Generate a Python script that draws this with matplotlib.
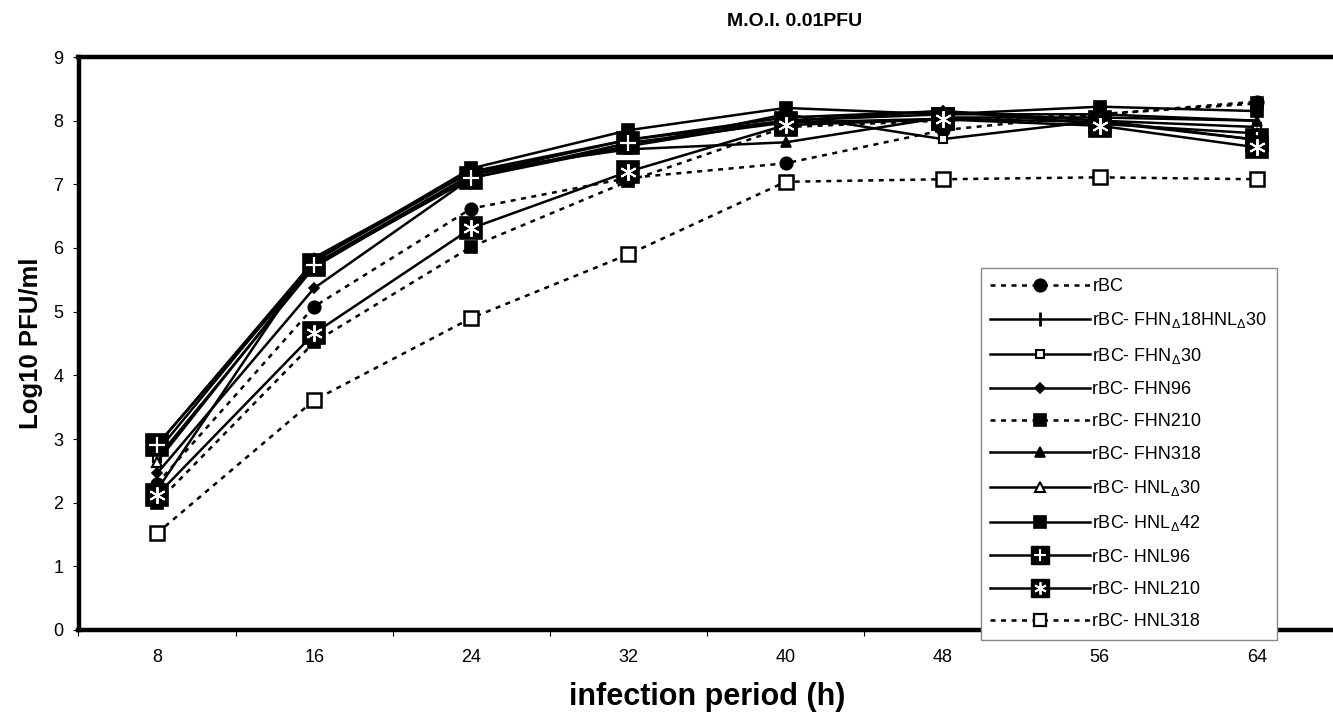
import matplotlib
matplotlib.use("Agg")
import matplotlib.pyplot as plt
from matplotlib.lines import Line2D
import numpy as np

plt.rcParams['font.family'] = ['Liberation Sans', 'DejaVu Sans']
plt.rcParams['mathtext.fontset'] = 'custom'
plt.rcParams['mathtext.rm'] = 'Liberation Sans'
plt.rcParams['mathtext.it'] = 'Liberation Sans'
plt.rcParams['mathtext.bf'] = 'Liberation Sans:bold'

hours = ['8', '16', '24', '32', '40', '48', '56', '64']

rBC            = [2.30, 5.08, 6.62, 7.10, 7.33, 7.85, 8.10, 8.30]
FHN_d18HNL_d30 = [2.80, 5.80, 7.20, 7.70, 8.00, 8.10, 8.10, 8.00]
FHN_d30        = [2.70, 5.70, 7.15, 7.60, 8.10, 7.71, 8.00, 7.90]
FHN96          = [2.46, 5.37, 7.10, 7.60, 8.00, 8.15, 8.00, 7.70]
FHN210         = [2.00, 4.52, 6.02, 7.05, 7.90, 8.00, 8.10, 8.27]
FHN318         = [2.20, 5.85, 7.20, 7.55, 7.66, 8.05, 8.05, 8.00]
HNL_d30        = [2.64, 5.75, 7.15, 7.70, 8.05, 8.15, 7.95, 7.80]
HNL_d42        = [2.90, 5.80, 7.25, 7.85, 8.20, 8.10, 8.22, 8.15]
HNL96          = [2.91, 5.73, 7.10, 7.65, 7.97, 8.03, 7.98, 7.70]
HNL210         = [2.12, 4.66, 6.31, 7.20, 7.93, 8.02, 7.92, 7.58]
HNL318         = [1.52, 3.61, 4.90, 5.90, 7.04, 7.08, 7.11, 7.08]

labels = ['rBC', r'rBC- FHN$_{\Delta}$18HNL$_{\Delta}$30', r'rBC- FHN$_{\Delta}$30',
          'rBC- FHN96', 'rBC- FHN210', 'rBC- FHN318', r'rBC- HNL$_{\Delta}$30',
          r'rBC- HNL$_{\Delta}$42', 'rBC- HNL96', 'rBC- HNL210', 'rBC- HNL318']

fig = plt.figure(figsize=(13.33, 7.17), dpi=100)
ax = fig.add_axes([78.5/1333, 1-630/717, 1257/1333, (630-57)/717])
x = np.arange(len(hours))

lw = 1.8
dash = (2.0, 2.2)
k = 'black'

def plot(vals, ls, marker, ms, mfc='black', mew=1.2, z=2):
    kw = dict(color=k, lw=lw, marker=marker, ms=ms, mfc=mfc, mec=k, mew=mew, zorder=z)
    if ls == 'dashed':
        l, = ax.plot(x, vals, linestyle=(0, dash), **kw)
    else:
        l, = ax.plot(x, vals, linestyle='-', **kw)
    return l

h_rBC = plot(rBC, 'dashed', 'o', 9)
h1 = plot(FHN_d18HNL_d30, 'solid', '|', 10, mew=2)
h2 = plot(FHN_d30, 'solid', 's', 6, mfc='white', mew=1.5)
h3 = plot(FHN96, 'solid', 'D', 5.5)
h4 = plot(FHN210, 'dashed', 's', 8)
h5 = plot(FHN318, 'solid', '^', 7)
h6 = plot(HNL_d30, 'solid', '^', 7, mfc='white', mew=1.5)
h7 = plot(HNL_d42, 'solid', 's', 8)
h8a = plot(HNL96, 'solid', 's', 16, z=3)
h8b, = ax.plot(x, HNL96, linestyle='none', marker='+', ms=12, mec='white', mew=1.6, zorder=3)
h9a = plot(HNL210, 'solid', 's', 16, z=4)
h9b, = ax.plot(x, HNL210, linestyle='none', marker=(6, 2, 0), ms=12, mec='white', mew=1.4, zorder=4)
h10 = plot(HNL318, 'dashed', 's', 10, mfc='white', mew=1.8)

# smaller legend proxies for the big boxed markers
p8a = Line2D([], [], color=k, lw=lw, marker='s', ms=12.5, mfc=k, mec=k)
p8b = Line2D([], [], linestyle='none', marker='+', ms=9, mec='white', mew=1.5)
p9a = Line2D([], [], color=k, lw=lw, marker='s', ms=12.5, mfc=k, mec=k)
p9b = Line2D([], [], linestyle='none', marker=(6, 2, 0), ms=9, mec='white', mew=1.3)
p10 = Line2D([], [], color=k, lw=lw, linestyle=(0, dash), marker='s', ms=8, mfc='white', mec=k, mew=1.6)

handles = [h_rBC, h1, h2, h3, h4, h5, h6, h7, (p8a, p8b), (p9a, p9b), p10]

ax.set_xlim(-0.5, 7.5)
ax.set_ylim(0, 9)
ax.set_yticks(range(0, 10))
ax.set_xticks(x)
ax.set_xticklabels(hours)
ax.set_xticks(np.arange(-0.5, 8.0, 1.0), minor=True)
ax.tick_params(axis='x', which='major', length=0, pad=14, labelsize=13)
ax.tick_params(axis='x', which='minor', length=4, width=0.8, direction='out')
ax.tick_params(axis='y', which='major', length=4, width=0.8, direction='out', pad=7, labelsize=13)

for s in ['left', 'top', 'bottom']:
    ax.spines[s].set_linewidth(3.2)
ax.spines['right'].set_visible(False)

ax.set_ylabel('Log10 PFU/ml', fontsize=18.5, fontweight='bold')
ax.yaxis.set_label_coords((43 - 78.5) / 1257, 0.5)
ax.set_xlabel('infection period (h)', fontsize=22, fontweight='bold')
ax.xaxis.set_label_coords(0.5, (630 - 682) / 573)
fig.text(795/1333, 1-22/717, 'M.O.I. 0.01PFU', fontsize=14, fontweight='bold',
         ha='center', va='center')

leg = ax.legend(handles, labels, loc='upper right',
                bbox_to_anchor=(1277/1333, 1-268/717), bbox_transform=fig.transFigure,
                fontsize=13, frameon=True, fancybox=False, framealpha=1,
                edgecolor='#888888', handlelength=5.5, handletextpad=0.15,
                labelspacing=0.85, borderpad=0.55, numpoints=1, borderaxespad=0)
leg.get_frame().set_linewidth(1.0)
leg.set_zorder(10)

fig.savefig('out.png', dpi=100)
